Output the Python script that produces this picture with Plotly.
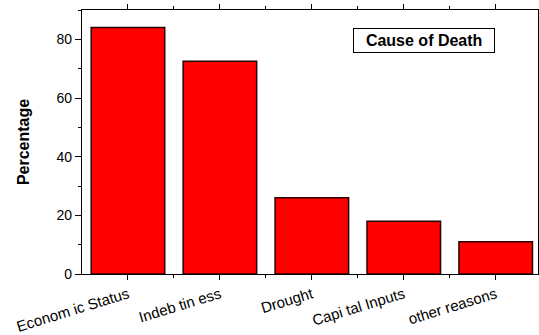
import plotly.graph_objects as go

categories = ["Economic Status", "Indebtiness", "Drought", "Capital Inputs", "other reasons"]
tick_labels = ["Econom ic Status", "Indeb tin ess", "Drought", "Capi tal Inputs", "other reasons"]
percentages = [84, 72.5, 26, 18, 11]

fig = go.Figure()
fig.add_trace(go.Bar(
    x=list(range(len(categories))),
    y=percentages,
    width=0.8,
    marker=dict(color="#ff0000", line=dict(color="#2a0000", width=1.5)),
))

fig.update_layout(
    width=539, height=335,
    margin=dict(l=82, r=1, t=10, b=61),
    paper_bgcolor="white", plot_bgcolor="white",
    showlegend=False,
    font=dict(family="Liberation Sans, Arial", color="black"),
    xaxis=dict(
        range=[-0.5, 4.46],
        automargin=False,
        tickmode="array",
        tickvals=list(range(len(categories))),
        ticktext=tick_labels,
        tickangle=-17,
        ticks="outside", ticklen=5, tickwidth=1.2, tickcolor="black",
        showline=True, linecolor="black", linewidth=1.2, mirror="ticks",
        showgrid=False, zeroline=False,
        tickfont=dict(size=15, family="Liberation Sans, Arial"),
        minor=dict(tickvals=[0.5, 1.5, 2.5, 3.5], ticks="outside", ticklen=3, tickcolor="black"),
    ),
    yaxis=dict(
        range=[0, 90],
        automargin=False,
        tickvals=[0, 20, 40, 60, 80],
        ticks="outside", ticklen=6, tickwidth=1.2, tickcolor="black",
        showline=True, linecolor="black", linewidth=1.2, mirror="ticks",
        showgrid=False, zeroline=False,
        tickfont=dict(size=14, family="Liberation Sans, Arial"),
        minor=dict(dtick=10, ticks="outside", ticklen=3, tickcolor="black"),
        title=dict(text="<b>Percentage</b>", font=dict(size=16, family="Liberation Sans Narrow, Liberation Sans, Arial"), standoff=22),
    ),
    annotations=[dict(
        x=0.75, y=0.884, xref="paper", yref="paper",
        xanchor="center", yanchor="middle",
        text="&nbsp;&nbsp;<b>Cause of Death</b>&nbsp;&nbsp;", showarrow=False,
        font=dict(size=16, family="Liberation Sans, Arial"),
        bordercolor="black", borderwidth=1, borderpad=3, bgcolor="white",
    )],
)
fig.update_yaxes(tickprefix="<b>", ticksuffix="</b>")

fig.write_html("out.html", config={"displayModeBar": False},
               post_script="document.body.style.margin='0px';")
